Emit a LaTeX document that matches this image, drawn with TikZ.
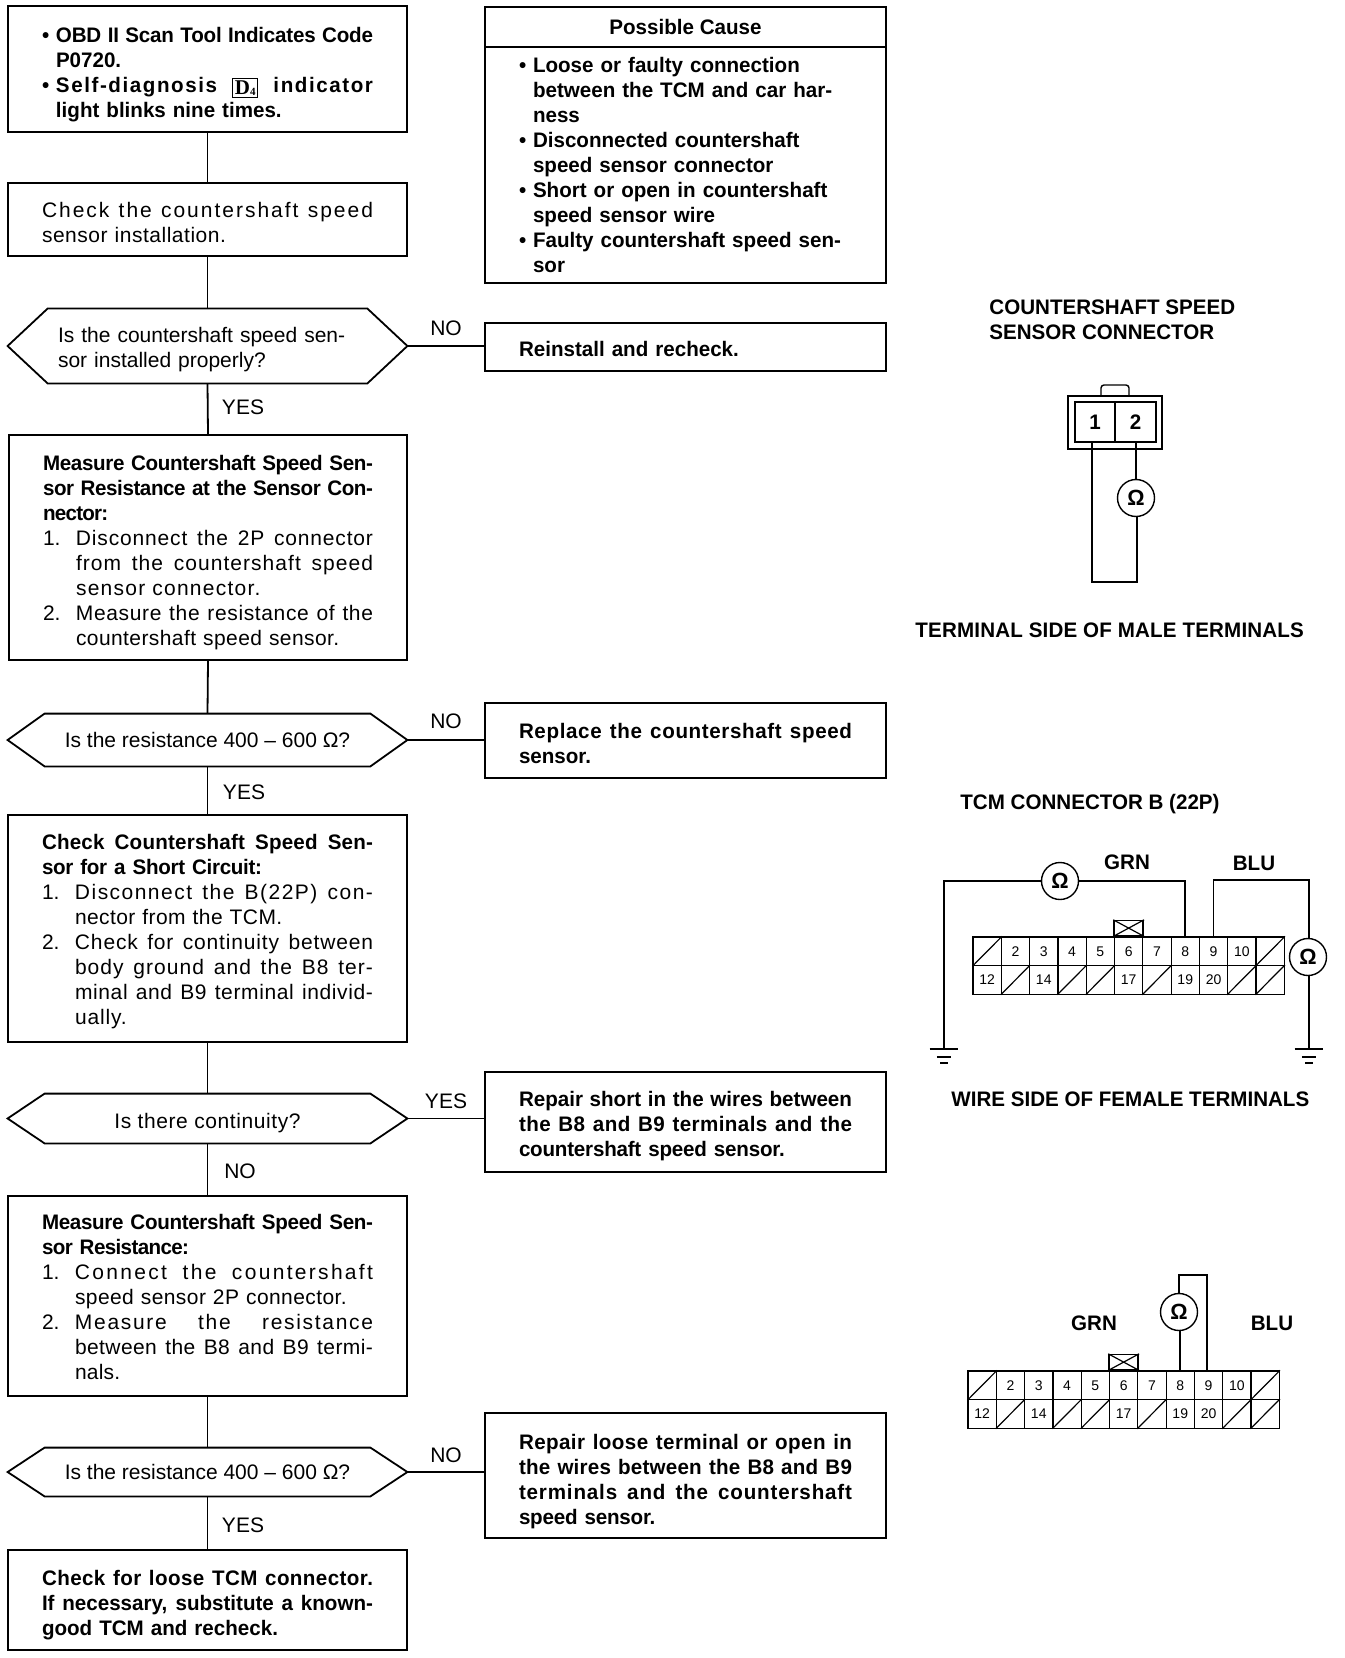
\documentclass[tikz,border=0pt]{standalone}
\usepackage{fontspec}
\setmainfont{Liberation Sans}[BoldFeatures={FakeStretch=0.98}]
\newfontfamily\serifD{Liberation Serif}
\usetikzlibrary{calc}
\newcommand\bodyfont{\fontsize{10.5}{12.5}\selectfont}
\tikzset{
  px/.style={x=0.5pt,y=-0.5pt},
  flowbox/.style={draw=black,line width=0.8pt,inner xsep=17pt,inner ysep=0pt,align=left,font=\bodyfont},
  hexbox/.style={inner sep=0pt,align=center,font=\bodyfont},
  flowline/.style={draw=black,line width=0.9pt},
  wire/.style={draw=black,line width=0.9pt},
  flowlabel/.style={font=\bodyfont,inner sep=0pt},
  title/.style={font=\bodyfont\bfseries,inner sep=0pt,anchor=west,align=left},
  ohm/.style={draw=black,circle,line width=0.7pt,minimum size=18.5pt,inner sep=0pt,font=\fontsize{11}{11}\selectfont\bfseries,fill=white},
  cell/.style={draw=black,line width=0.6pt,minimum width=14.15pt,minimum height=14.3pt,inner sep=0pt,font=\fontsize{7}{7}\selectfont},
  slashline/.style={draw=black,line width=0.6pt},
  gnd/.style={draw=black,line width=0.9pt},
}
\newcommand\jl[2][0pt]{\hspace*{#1}\makebox[\dimexpr\tw-#1\relax][s]{\spaceskip=.278em plus 1fil minus .1em\relax #2}}
\newcommand\jm[2]{\numd{#1}\makebox[\dimexpr\tw-16.5pt\relax][s]{\spaceskip=.278em plus 1fil minus .1em\relax #2}}
\newcommand\ls[2]{{\addfontfeature{LetterSpace=#1}#2}}
\newcommand\vs[1]{\vskip #1pt\relax}
\newcommand\dn[2]{\raisebox{-#1pt}[8pt][2pt]{#2}}
\newcommand\numd[1]{\makebox[16.5pt][l]{#1.}}
\newcommand\ind{\hspace*{16.5pt}}
\newcommand\bul{\makebox[7pt][l]{•}}
\newcommand\hng{\hspace*{7pt}}
\newcommand\dfour{\raisebox{-1pt}{\setlength\fboxsep{0.9pt}\setlength\fboxrule{0.5pt}\fbox{\serifD\bfseries D\raisebox{-0.5pt}{\fontsize{5.5}{5.5}\selectfont 4}}}}
% [opts]{name}{x1}{y1}{x2}{y2}{text}
\newcommand\bx[7][]{%
  \pgfmathsetlengthmacro\tw{(#5-#3-68)*0.5pt}%
  \pgfmathsetlengthmacro\bw{(#5-#3)*0.5pt}%
  \pgfmathsetlengthmacro\bh{(#6-#4)*0.5pt}%
  \node[flowbox,text width=\tw,minimum width=\bw,minimum height=\bh,#1] (#2) at ({(#3+#5)/2},{(#4+#6)/2}) {#7};}
% [opts]{name}{x1}{y1}{x2}{y2}{depth}{text}
\newcommand\hexb[8][]{%
  \pgfmathsetlengthmacro\bw{(#5-#3)*0.5pt}%
  \pgfmathsetlengthmacro\bh{(#6-#4)*0.5pt}%
  \pgfmathsetlengthmacro\hexd{#7*0.5pt}%
  \node[hexbox,minimum width=\bw,minimum height=\bh,#1] (#2) at ({(#3+#5)/2},{(#4+#6)/2}) {#8};
  \draw[flowline] (#2.west) -- ([xshift=\hexd]#2.north west) -- ([xshift=-\hexd]#2.north east) -- (#2.east) -- ([xshift=-\hexd]#2.south east) -- ([xshift=\hexd]#2.south west) -- cycle;}
% prefix, x0, ytop of upper row
\newcommand\tcmconn[3]{%
  \foreach \i/\lab in {1/2,2/3,3/4,4/5,5/6,6/7,7/8,8/9,9/10}
    \node[cell] (#1p\lab) at ({#2+(\i+0.5)*28.3},{#3+14.3}) {\lab};
  \foreach \i/\lab in {0/12,2/14,5/17,7/19,8/20}
    \node[cell] (#1p\lab) at ({#2+(\i+0.5)*28.3},{#3+42.9}) {\lab};
  \foreach \i in {0,10}{
    \node[cell] (#1a\i) at ({#2+(\i+0.5)*28.3},{#3+14.3}) {};
    \draw[slashline] (#1a\i.south west) -- (#1a\i.north east);}
  \foreach \i in {1,3,4,6,9,10}{
    \node[cell] (#1b\i) at ({#2+(\i+0.5)*28.3},{#3+42.9}) {};
    \draw[slashline] (#1b\i.south west) -- (#1b\i.north east);}
  \node[draw=black,line width=0.8pt,minimum width=14.6pt,minimum height=7.5pt,inner sep=0pt,anchor=south] (#1tab) at (#1p6.north) {};
  \draw[slashline] (#1tab.south west) -- (#1tab.north east) (#1tab.north west) -- (#1tab.south east);
}
% ground: coordinate name
\newcommand\ground[1]{%
  \draw[gnd] ([xshift=-7.2pt]#1) -- ([xshift=7.2pt]#1);
  \draw[gnd] ([xshift=-3.6pt,yshift=-4pt]#1) -- ([xshift=3.6pt,yshift=-4pt]#1);
  \draw[gnd] ([xshift=-2pt,yshift=-7pt]#1) -- ([xshift=2pt,yshift=-7pt]#1);}
\begin{document}
\begin{tikzpicture}[px]
\path[use as bounding box,fill=white] (0,0) rectangle (1344,1658);
% left column
\bx[font=\bodyfont\bfseries]{b1}{8}{6}{407}{132}{\vs{0.5}%
\jl{\bul\ls{-1}{OBD II Scan Tool Indicates Code}}\\
\hng P0720.\\
\jl{\bul\ls{7.5}{Self-diagnosis} \dfour{} \ls{7.5}{indicator}}\\
\hng light blinks nine times.}
\bx{b2}{8}{183}{407}{256}{\vs{-2.1}\jl{\ls{9.5}{Check the countershaft speed}}\\
\ls{2.5}{sensor installation.}}
\hexb[text width=149.5pt,align=left]{h1}{8}{309}{407}{383}{40}{\vs{-1.1}%
Is the countershaft speed sen-\\sor installed properly?}
\bx{b3}{9}{435}{407}{660}{\vs{0}%
\textbf{\jl{\ls{-1.5}{Measure Countershaft Speed Sen-}}}\\
\textbf{\jl{\ls{-2}{sor Resistance at the Sensor Con-}}}\\
\textbf{\ls{-3.5}{nector:}}\\
\jm{1}{\ls{4}{Disconnect the 2P connector}}\\
\jl[16.5pt]{\ls{5}{from the countershaft speed}}\\
\ind\ls{6}{sensor connector.}\\
\jm{2}{\ls{3}{Measure the resistance of the}}\\
\ind\ls{2}{countershaft speed sensor.}}
\hexb{h2}{8}{714}{407}{766}{37}{\dn{0.5}{Is the resistance 400 – 600 Ω?}}
\bx{b4}{8}{815}{407}{1042}{\vs{-1.5}%
\textbf{\jl{\ls{1}{Check Countershaft Speed Sen-}}}\\
\textbf{\ls{-1.5}{sor for a Short Circuit:}}\\
\jm{1}{\ls{7}{Disconnect the B(22P) con-}}\\
\ind\ls{2}{nector from the TCM.}\\
\jm{2}{\ls{4}{Check for continuity between}}\\
\jl[16.5pt]{\ls{5}{body ground and the B8 ter-}}\\
\jl[16.5pt]{\ls{3}{minal and B9 terminal individ-}}\\
\ind\ls{4}{ually.}}
\hexb{h3}{8}{1094}{407}{1143}{37}{\dn{2.1}{\ls{2.8}{Is there continuity?}}}
\bx{b5}{8}{1196}{407}{1396}{\vs{-3.7}%
\textbf{\jl{\ls{-1.5}{Measure Countershaft Speed Sen-}}}\\
\textbf{\ls{-3}{sor Resistance:}}\\
\jm{1}{\ls{11}{Connect the countershaft}}\\
\ind\ls{2}{speed sensor 2P connector.}\\
\jm{2}{\ls{8}{Measure the resistance}}\\
\jl[16.5pt]{\ls{2}{between the B8 and B9 termi-}}\\
\ind\ls{1}{nals.}}
\hexb{h4}{8}{1448}{407}{1496}{37}{\dn{0.5}{Is the resistance 400 – 600 Ω?}}
\bx[font=\bodyfont\bfseries]{b6}{8}{1550}{407}{1650}{\vs{0.5}%
\jl{\ls{2}{Check for loose TCM connector.}}\\
\jl{If necessary, substitute a known-}\\
good TCM and recheck.}
% right column
\node[draw=black,line width=0.8pt,minimum width=200.5pt,minimum height=20pt,inner sep=0pt,font=\bodyfont\bfseries] (pch) at (685.5,27) {\dn{1}{Possible Cause}};
\bx[font=\bodyfont\bfseries]{pc}{485}{47}{886}{283}{\vs{-4.9}%
\bul Loose or faulty connection\\
\hng between the TCM and car har-\\
\hng ness\\
\bul Disconnected countershaft\\
\hng speed sensor connector\\
\bul Short or open in countershaft\\
\hng speed sensor wire\\
\bul Faulty countershaft speed sen-\\
\hng sor}
\bx[font=\bodyfont\bfseries]{r1}{485}{323}{886}{371}{\vs{-3.2}Reinstall and recheck.}
\bx[font=\bodyfont\bfseries]{r2}{485}{703}{886}{778}{\vs{-2.1}\jl{\ls{3}{Replace the countershaft speed}}\\sensor.}
\bx[font=\bodyfont\bfseries]{r3}{485}{1072}{886}{1172}{\vs{-0.5}\jl{Repair short in the wires between}\\\jl{\ls{2}{the B8 and B9 terminals and the}}\\\ls{-1}{countershaft speed sensor.}}
\bx[font=\bodyfont\bfseries]{r4}{485}{1413}{886}{1538}{\vs{1.1}\jl{\ls{2}{Repair loose terminal or open in}}\\\jl{\ls{1}{the wires between the B8 and B9}}\\\jl{\ls{4}{terminals and the countershaft}}\\\ls{-1}{speed sensor.}}
% connectors
\draw[flowline] (b1.south) -- (b2.north);
\draw[flowline] (b2.south) -- (h1.north);
\draw[flowline] (h1.south) -- (b3.north);
\draw[flowline] (b3.south) -- (h2.north);
\draw[flowline] (h2.south) -- (b4.north);
\draw[flowline] (b4.south) -- (h3.north);
\draw[flowline] (h3.south) -- (b5.north);
\draw[flowline] (b5.south) -- (h4.north);
\draw[flowline] (h4.south) -- (b6.north);
\draw[flowline] (h1.east) -- (h1.east -| r1.west);
\draw[flowline] (h2.east) -- (h2.east -| r2.west);
\draw[flowline] (h3.east) -- (h3.east -| r3.west);
\draw[flowline] (h4.east) -- (h4.east -| r4.west);
% connector labels
\node[flowlabel] (l1) at (446,328) {NO};
\node[flowlabel] (l2) at (243,407) {YES};
\node[flowlabel] (l3) at (446,721) {NO};
\node[flowlabel] (l4) at (244,792) {YES};
\node[flowlabel] (l5) at (446,1101) {YES};
\node[flowlabel] (l6) at (240,1171) {NO};
\node[flowlabel] (l7) at (446,1455) {NO};
\node[flowlabel] (l8) at (243,1525) {YES};
% sensor connector
\node[title] (t1) at (989,319.5) {COUNTERSHAFT SPEED\\SENSOR CONNECTOR};
\node[draw=black,line width=0.7pt,minimum width=47pt,minimum height=26.5pt,inner sep=0pt] (sc) at (1115,422.5) {};
\node[draw=black,line width=0.7pt,minimum width=20pt,minimum height=20pt,inner sep=0pt,font=\bodyfont\bfseries] (s1) at (1095,422) {1};
\node[draw=black,line width=0.7pt,minimum width=20.5pt,minimum height=20pt,inner sep=0pt,font=\bodyfont\bfseries] (s2) at (1135.5,422) {2};
\coordinate (st1) at (1101,385);
\coordinate (st2) at (1129,385);
\draw[line width=0.7pt,rounded corners=1.5pt] (sc.north -| st1) -- (st1) -- (st2) -- (sc.north -| st2);
\node[ohm] (so) at (1136,498) {Ω};
\coordinate (sb1) at (1092,582);
\coordinate (sb2) at (1137,582);
\draw[wire] (s2.south -| so.north) -- (so.north);
\draw[wire] (s1.south -| sb1) -- (sb1) -- (sb2) -- (so.south -| sb2);
\node[title] (t2) at (915,630) {\ls{0.8}{TERMINAL SIDE OF MALE TERMINALS}};
% TCM connector with ground
\node[title] (t3) at (960,804) {TCM CONNECTOR B (22P)};
\tcmconn{a}{973}{937}
\node[ohm] (ao1) at (1060,881) {Ω};
\node[ohm] (ao2) at (1308,957) {Ω};
\coordinate (ag1) at (944,1049);
\coordinate (ag2) at (1309,1049);
\coordinate (ac1) at (1309,880);
\draw[wire] (ao1.west) -- (ao1.west -| ag1) -- (ag1);
\draw[wire] (ao1.east) -- (ao1.east -| ap8.north) -- (ap8.north);
\draw[wire] (ap9.north) -- (ap9.north |- ac1) -- (ac1) -- (ac1 |- ao2.north);
\draw[wire] (ao2.south -| ag2) -- (ag2);
\ground{ag1}
\ground{ag2}
\node[title,anchor=center] (g1) at (1127,862) {GRN};
\node[title,anchor=center] (g2) at (1254,863) {BLU};
\node[title] (t4) at (951,1099) {WIRE SIDE OF FEMALE TERMINALS};
% TCM connector resistance
\tcmconn{c}{968}{1371}
\node[ohm] (co) at (1179,1312) {Ω};
\coordinate (cc1) at (1179,1275);
\coordinate (cc2) at (1207,1275);
\draw[wire] (cp8.north) -- (cp8.north |- co.south);
\draw[wire] (cc1 |- co.north) -- (cc1) -- (cc2) -- (cc2 |- cp9.north);
\node[title,anchor=center] (g3) at (1094,1323) {GRN};
\node[title,anchor=center] (g4) at (1272,1323) {BLU};
\end{tikzpicture}
\end{document}
